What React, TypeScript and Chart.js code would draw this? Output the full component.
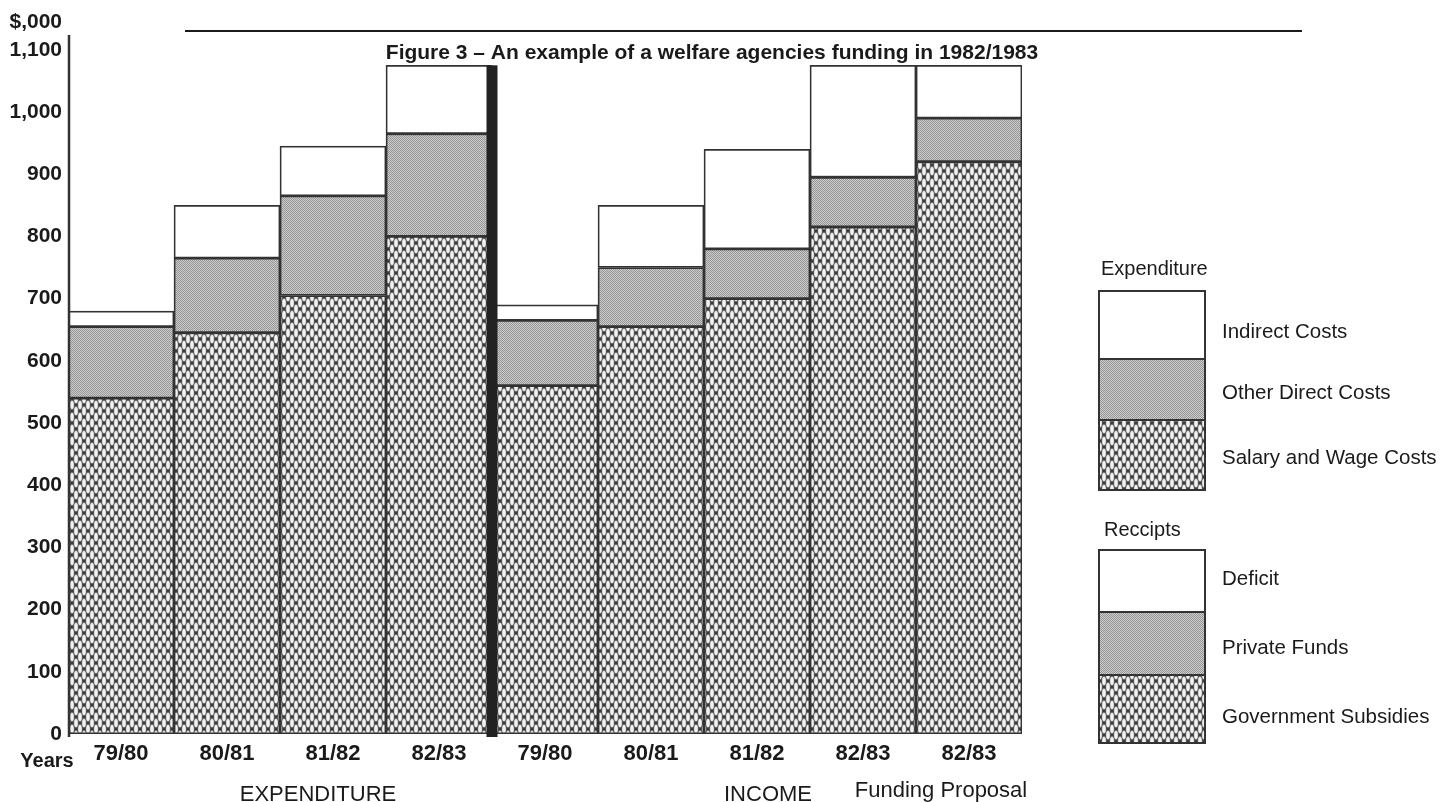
import React, { useEffect, useRef } from "react";
import { Chart, registerables } from "chart.js";
Chart.register(...registerables);

// ---------- data ($,000) ----------
const categories = ["79/80", "80/81", "81/82", "82/83", "79/80", "80/81", "81/82", "82/83", "82/83"];
// bottom segment: Salary and Wage Costs (expenditure) / Government Subsidies (income)
const bottomSeries = [540, 645, 705, 800, 560, 655, 700, 815, 920];
// middle segment: Other Direct Costs / Private Funds
const middleSeries = [115, 120, 160, 165, 105, 95, 80, 80, 70];
// top segment: Indirect Costs / Deficit
const topSeries = [25, 85, 80, 110, 25, 100, 160, 180, 85];

const yTickValues = [0, 100, 200, 300, 400, 500, 600, 700, 800, 900, 1000, 1100];
const unitTickValue = 1145;
const unitLabel = "$,000";

const titleText = "Figure 3 \u2013 An example of a welfare agencies funding in 1982/1983";
const yearsLabel = "Years";
const groupLabels = ["EXPENDITURE", "INCOME", "Funding Proposal"];
const expenditureTitle = "Expenditure";
const expenditureLabels = ["Indirect Costs", "Other Direct Costs", "Salary and Wage Costs"];
const receiptsTitle = "Reccipts";
const receiptsLabels = ["Deficit", "Private Funds", "Government Subsidies"];

const FONT = "'Liberation Sans', Arial, Helvetica, sans-serif";
const INK = "#1a1a1a";
const EDGE = "#333333";

function makeHatch(): CanvasPattern | string {
  const c = document.createElement("canvas");
  c.width = 8;
  c.height = 12;
  const g = c.getContext("2d");
  if (!g) return "#888";
  g.fillStyle = "#3a3a3a";
  g.fillRect(0, 0, 8, 12);
  const pts = [
    [4, 3], [4, 15], [4, -9],
    [0, 9], [8, 9], [0, -3], [8, -3],
  ];
  const draw = (rx: number, ry: number, col: string) => {
    g.fillStyle = col;
    for (const [x, y] of pts) {
      g.beginPath();
      g.ellipse(x, y, rx, ry, 0, 0, Math.PI * 2);
      g.fill();
    }
  };
  draw(2.4, 4.9, "#7c7c7c");
  draw(1.8, 4.0, "#f2f2f2");
  const p = g.createPattern(c, "repeat");
  return p || "#888";
}

function makeDots(): CanvasPattern | string {
  const c = document.createElement("canvas");
  c.width = 2;
  c.height = 2;
  const g = c.getContext("2d");
  if (!g) return "#aaa";
  g.fillStyle = "#cbcbcb";
  g.fillRect(0, 0, 2, 2);
  g.fillStyle = "#979797";
  g.fillRect(0, 0, 1, 1);
  g.fillRect(1, 1, 1, 1);
  const p = g.createPattern(c, "repeat");
  return p || "#aaa";
}

export default function App() {
  const ref = useRef<HTMLCanvasElement | null>(null);

  useEffect(() => {
    const canvas = ref.current;
    if (!canvas) return;
    const hatch = makeHatch();
    const dots = makeDots();

    const decor = {
      id: "decor",
      afterDatasetsDraw(chart: any) {
        const ctx = chart.ctx;
        const x = chart.scales.x;
        const y = chart.scales.y;
        // thick separator between expenditure and income
        const sx = (x.getPixelForValue(3) + x.getPixelForValue(4)) / 2;
        const total = bottomSeries[3] + middleSeries[3] + topSeries[3];
        const sy = y.getPixelForValue(total);
        ctx.save();
        ctx.fillStyle = "#222";
        ctx.fillRect(sx - 5.5, sy, 11, chart.chartArea.bottom + 3 - sy);
        // y axis line
        ctx.strokeStyle = EDGE;
        ctx.lineWidth = 2.5;
        ctx.beginPath();
        ctx.moveTo(chart.chartArea.left + 1, 35);
        ctx.lineTo(chart.chartArea.left + 1, chart.chartArea.bottom + 3);
        ctx.stroke();
        ctx.restore();
      },
      afterDraw(chart: any) {
        const ctx = chart.ctx;
        ctx.save();
        // rule above title
        ctx.strokeStyle = INK;
        ctx.lineWidth = 2;
        ctx.beginPath();
        ctx.moveTo(185, 31);
        ctx.lineTo(1302, 31);
        ctx.stroke();
        // title
        ctx.fillStyle = INK;
        ctx.font = `bold 21px ${FONT}`;
        ctx.textAlign = "center";
        ctx.textBaseline = "middle";
        ctx.fillText(titleText, 712, 53);
        // Years
        ctx.font = `bold 20px ${FONT}`;
        ctx.fillText(yearsLabel, 47, 761);
        // group labels
        ctx.font = `22px ${FONT}`;
        ctx.textBaseline = "alphabetic";
        ctx.fillText(groupLabels[0], 318, 801);
        ctx.fillText(groupLabels[1], 768, 801);
        ctx.fillText(groupLabels[2], 941, 797);

        // legends
        const drawLegend = (
          title: string,
          titleX: number,
          titleY: number,
          edges: number[],
          labels: string[],
          labelYs: number[]
        ) => {
          ctx.font = `20px ${FONT}`;
          ctx.textAlign = "left";
          ctx.textBaseline = "middle";
          ctx.fillStyle = INK;
          ctx.fillText(title, titleX, titleY);
          const fills = ["#ffffff", dots, hatch];
          for (let i = 0; i < 3; i++) {
            ctx.fillStyle = fills[i] as any;
            ctx.fillRect(1099, edges[i], 106, edges[i + 1] - edges[i]);
            ctx.strokeStyle = EDGE;
            ctx.lineWidth = 2;
            ctx.strokeRect(1099, edges[i], 106, edges[i + 1] - edges[i]);
          }
          ctx.fillStyle = INK;
          ctx.font = `20.5px ${FONT}`;
          for (let i = 0; i < 3; i++) ctx.fillText(labels[i], 1222, labelYs[i]);
        };
        drawLegend(expenditureTitle, 1101, 269, [291, 359, 420, 490], expenditureLabels, [332, 393, 458]);
        drawLegend(receiptsTitle, 1104, 530, [550, 612, 675, 743], receiptsLabels, [579, 648, 717]);
        ctx.restore();
      },
    };

    const common = {
      borderColor: EDGE,
      borderWidth: 1.75,
      borderSkipped: false,
      barPercentage: 1,
      categoryPercentage: 1,
    };

    const chart = new Chart(canvas, {
      type: "bar",
      data: {
        labels: categories,
        datasets: [
          { label: "Salary and Wage Costs / Government Subsidies", data: bottomSeries, backgroundColor: hatch as any, ...common },
          { label: "Other Direct Costs / Private Funds", data: middleSeries, backgroundColor: dots as any, ...common },
          { label: "Indirect Costs / Deficit", data: topSeries, backgroundColor: "#ffffff", ...common },
        ],
      } as any,
      options: {
        responsive: false,
        animation: false,
        devicePixelRatio: 1,
        layout: { padding: { left: 0, right: 434, top: 0, bottom: 0 } },
        plugins: {
          legend: { display: false },
          tooltip: { enabled: false },
          title: { display: false },
        },
        scales: {
          x: {
            stacked: true,
            grid: { display: false, drawTicks: false },
            border: { display: false },
            ticks: {
              color: INK,
              font: { family: FONT, size: 22, weight: "bold" },
              padding: 7,
              maxRotation: 0,
              autoSkip: false,
            },
            afterFit(scale: any) {
              scale.height = 68;
              scale.paddingLeft = 0;
              scale.paddingRight = 0;
            },
          },
          y: {
            stacked: true,
            min: 0,
            max: 1180,
            grid: { display: false, drawTicks: false },
            border: { display: false },
            afterBuildTicks(scale: any) {
              scale.ticks = [...yTickValues, unitTickValue].map((v) => ({ value: v }));
            },
            ticks: {
              color: INK,
              font: { family: FONT, size: 21, weight: "bold" },
              padding: 6,
              autoSkip: false,
              callback: (v: any) =>
                v === unitTickValue ? unitLabel : Number(v).toLocaleString("en-US"),
            },
            afterFit(scale: any) {
              scale.width = 68;
              scale.paddingTop = 0;
              scale.paddingBottom = 0;
            },
          },
        },
      } as any,
      plugins: [decor],
    });

    return () => chart.destroy();
  }, []);

  return (
    <div style={{ position: "fixed", left: 0, top: 0, width: 1456, height: 802, background: "#fff" }}>
      <canvas ref={ref} width={1456} height={802} style={{ display: "block" }} />
    </div>
  );
}
